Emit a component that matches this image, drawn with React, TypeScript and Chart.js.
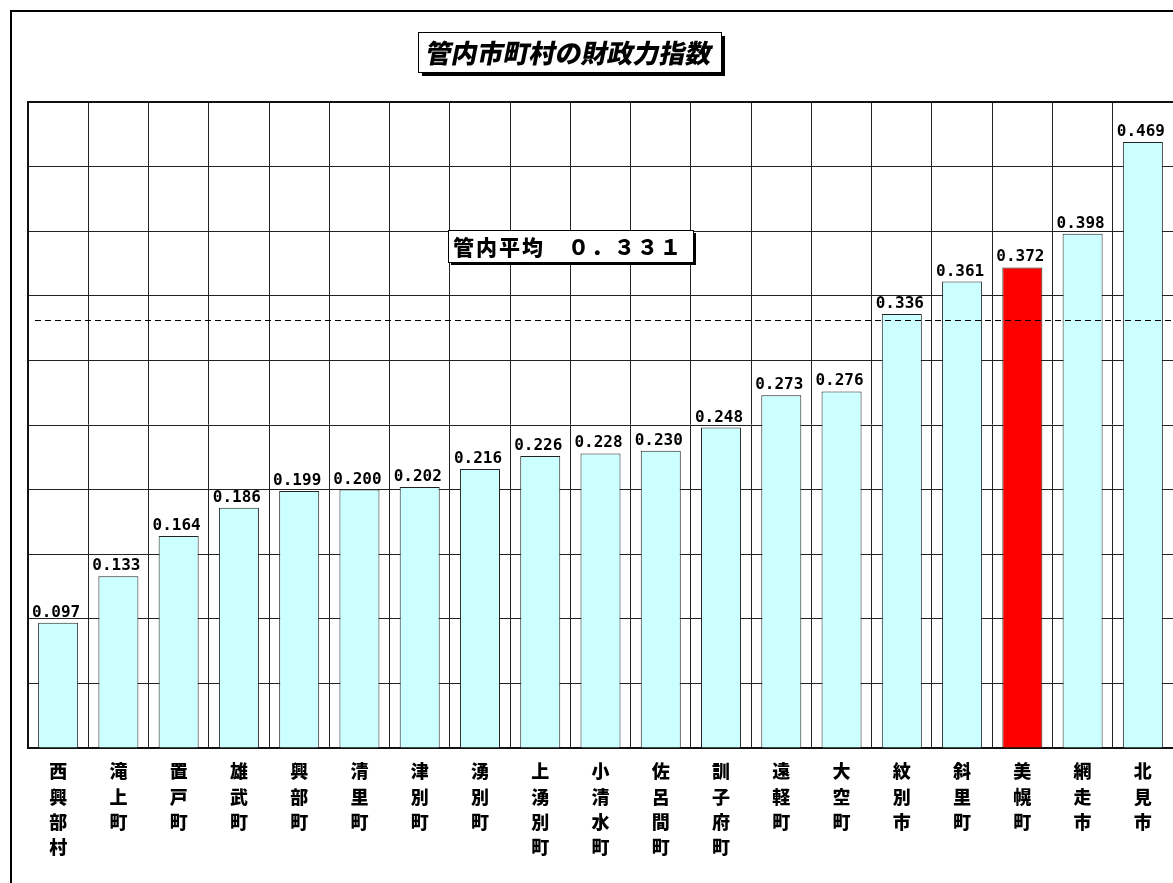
import React, { useEffect, useRef } from 'react';
import { Chart, registerables } from 'chart.js';

Chart.register(...registerables);

const categories = [
  '西興部村', '滝上町', '置戸町', '雄武町', '興部町', '清里町', '津別町', '湧別町', '上湧別町', '小清水町',
  '佐呂間町', '訓子府町', '遠軽町', '大空町', '紋別市', '斜里町', '美幌町', '網走市', '北見市',
];
const values = [
  0.097, 0.133, 0.164, 0.186, 0.199, 0.2, 0.202, 0.216, 0.226, 0.228,
  0.23, 0.248, 0.273, 0.276, 0.336, 0.361, 0.372, 0.398, 0.469,
];
const highlighted = '美幌町';
const averageValue = 0.331;
const titleText = '管内市町村の財政力指数';
const averageLabel = '管内平均　０．３３１';
const yMin = 0;
const yMax = 0.5;
const yStep = 0.05;

const barColor = '#CCFFFF';
const highlightColor = '#FF0000';

const decorPlugin = {
  id: 'decor',
  beforeDraw(chart: any) {
    const ctx = chart.ctx;
    ctx.save();
    ctx.fillStyle = '#fff';
    ctx.fillRect(0, 0, chart.width, chart.height);
    ctx.strokeStyle = '#000';
    ctx.lineWidth = 2;
    ctx.strokeRect(11, 11, chart.width + 40, chart.height + 40);
    ctx.restore();
  },
  afterDatasetsDraw(chart: any) {
    const { ctx, chartArea, scales } = chart;
    ctx.save();
    // top frame line
    ctx.strokeStyle = '#111';
    ctx.lineWidth = 2;
    ctx.beginPath();
    ctx.moveTo(chartArea.left - 1, chartArea.top);
    ctx.lineTo(chartArea.right, chartArea.top);
    ctx.stroke();

    // value labels
    const meta = chart.getDatasetMeta(0);
    ctx.fillStyle = '#000';
    ctx.font = 'bold 16px "DejaVu Sans Mono"';
    ctx.textAlign = 'center';
    ctx.textBaseline = 'alphabetic';
    meta.data.forEach((bar: any, i: number) => {
      ctx.fillText(values[i].toFixed(3), bar.x - 2, bar.y - 6);
    });

    // average dashed line
    const yAvg = Math.round(scales.y.getPixelForValue(averageValue)) + 0.5;
    ctx.strokeStyle = '#000';
    ctx.lineWidth = 1;
    ctx.setLineDash([6, 4]);
    ctx.beginPath();
    ctx.moveTo(chartArea.left + 7, yAvg);
    ctx.lineTo(chartArea.right, yAvg);
    ctx.stroke();
    ctx.setLineDash([]);

    // average label box
    const bx = 448, by = 230, bw = 245, bh = 32;
    ctx.fillStyle = '#000';
    ctx.fillRect(bx + 3, by + 3, bw, bh);
    ctx.fillStyle = '#fff';
    ctx.fillRect(bx, by, bw, bh);
    ctx.strokeStyle = '#000';
    ctx.lineWidth = 1;
    ctx.strokeRect(bx + 0.5, by + 0.5, bw, bh);
    ctx.fillStyle = '#000';
    ctx.font = '900 21px "Noto Sans CJK JP"';
    ctx.textAlign = 'left';
    ctx.textBaseline = 'middle';
    (ctx as any).letterSpacing = '2px';
    ctx.fillText(averageLabel, bx + 5, by + bh / 2 + 1);
    (ctx as any).letterSpacing = '0px';

    // title box
    const tx = 418, ty = 32, tw = 303, th = 40;
    ctx.fillStyle = '#000';
    ctx.fillRect(tx + 4, ty + 4, tw, th);
    ctx.fillStyle = '#fff';
    ctx.fillRect(tx, ty, tw, th);
    ctx.strokeStyle = '#000';
    ctx.lineWidth = 1;
    ctx.strokeRect(tx + 0.5, ty + 0.5, tw, th);
    ctx.save();
    const cx = tx + tw / 2;
    const cy = ty + th / 2;
    ctx.translate(cx, cy);
    ctx.transform(1, 0, -0.2, 1, 0, 0);
    ctx.fillStyle = '#000';
    ctx.font = '900 26px "Noto Sans CJK JP"';
    ctx.textAlign = 'center';
    ctx.textBaseline = 'middle';
    ctx.fillText(titleText, 0, 1);
    ctx.restore();

    ctx.restore();
  },
};

export default function App() {
  const canvasRef = useRef<HTMLCanvasElement | null>(null);

  useEffect(() => {
    if (!canvasRef.current) return;
    const chart = new Chart(canvasRef.current, {
      type: 'bar',
      data: {
        labels: categories.map((c) => c.split('')),
        datasets: [
          {
            data: values,
            backgroundColor: categories.map((c) => (c === highlighted ? highlightColor : barColor)),
            borderColor: '#222',
            borderWidth: 1,
            categoryPercentage: 1,
            barPercentage: 0.664,
          },
        ],
      },
      options: {
        animation: false,
        responsive: true,
        maintainAspectRatio: false,
        layout: { padding: { left: 28, top: 102, right: 0, bottom: 0 }, autoPadding: false },
        plugins: {
          legend: { display: false },
          tooltip: { enabled: false },
          title: { display: false },
        },
        scales: {
          x: {
            grid: { color: '#222', lineWidth: 1, drawTicks: false, offset: true },
            border: { display: true, color: '#111', width: 2 },
            ticks: {
              color: '#000',
              font: { family: '"Noto Sans CJK JP"', size: 18, weight: '900', lineHeight: 1.4 },
              padding: 11,
              maxRotation: 0,
              autoSkip: false,
            },
            afterFit: (s: any) => {
              s.height = 135;
            },
          },
          y: {
            min: yMin,
            max: yMax,
            grid: { color: '#222', lineWidth: 1, drawTicks: false },
            border: { display: true, color: '#111', width: 2 },
            ticks: { display: false, stepSize: yStep },
            afterFit: (s: any) => {
              s.width = 0;
            },
          },
        },
      },
      plugins: [decorPlugin],
    });
    return () => chart.destroy();
  }, []);

  return (
    <div style={{ position: 'absolute', left: 0, top: 0, width: 1173, height: 883 }}>
      <canvas ref={canvasRef} />
    </div>
  );
}
